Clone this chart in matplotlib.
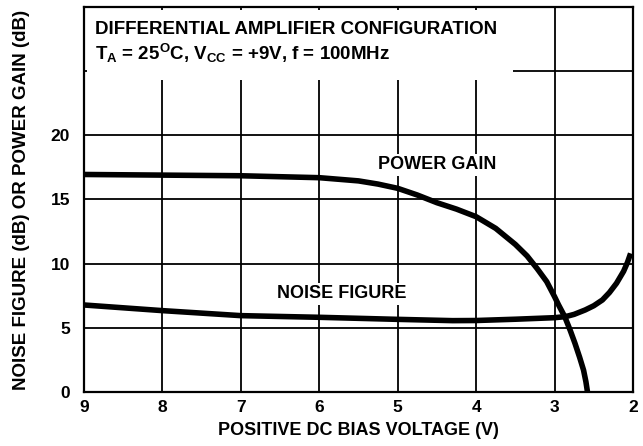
import matplotlib
matplotlib.use('Agg')
import matplotlib.pyplot as plt
from matplotlib.patches import Rectangle

plt.rcParams['font.family'] = ['Liberation Sans', 'DejaVu Sans']
plt.rcParams['font.weight'] = 'bold'
plt.rcParams['mathtext.fontset'] = 'custom'
plt.rcParams['mathtext.rm'] = 'Liberation Sans:bold'
plt.rcParams['mathtext.it'] = 'Liberation Sans:bold'
plt.rcParams['mathtext.bf'] = 'Liberation Sans:bold'

# values
gain_v = [9.0, 8.0, 7.0, 6.0, 5.5, 5.25, 5.0, 4.75, 4.5, 4.25, 4.0, 3.75, 3.5,
          3.35, 3.22, 3.1, 3.0, 2.95, 2.87, 2.8, 2.74, 2.68, 2.63, 2.6, 2.58]
gain_db = [16.95, 16.9, 16.85, 16.7, 16.45, 16.2, 15.87, 15.35, 14.75, 14.25, 13.66,
           12.75, 11.5, 10.6, 9.6, 8.6, 7.43, 6.8, 5.87, 4.8, 3.8, 2.7, 1.7, 0.8, 0.0]

noise_v = [9.0, 8.0, 7.0, 6.0, 5.0, 4.3, 4.0, 3.5, 3.0, 2.9, 2.83, 2.75, 2.61,
           2.5, 2.39, 2.3, 2.21, 2.12, 2.07, 2.03]
noise_db = [6.78, 6.34, 5.95, 5.82, 5.66, 5.56, 5.57, 5.67, 5.79, 5.85, 5.92, 6.05, 6.39,
            6.72, 7.17, 7.75, 8.47, 9.4, 10.1, 10.8]

x_ticks = [9, 8, 7, 6, 5, 4, 3, 2]
y_ticks = [0, 5, 10, 15, 20]

fig = plt.figure(figsize=(6.43, 4.46), dpi=100)
ax = fig.add_axes([0.1306, 0.1211, 0.8538, 0.8632])

ax.set_xlim(9, 2)
ax.set_ylim(0, 30)
ax.set_xticks(x_ticks)
ax.set_yticks(y_ticks)
ax.tick_params(length=0, labelsize=12.5)
ax.tick_params(axis='x', pad=6)
ax.tick_params(axis='y', pad=10)
for lbl in ax.get_xticklabels() + ax.get_yticklabels():
    lbl.set_fontweight('bold')

# grid
for x in x_ticks[1:-1]:
    ax.axvline(x, color='black', lw=1.3, zorder=1)
for y in [5, 10, 15, 20, 25]:
    ax.axhline(y, color='black', lw=1.3, zorder=1)
for s in ax.spines.values():
    s.set_linewidth(1.6)

# white box behind the conditions text
ax.add_patch(Rectangle((8.96, 24.3), 3.53 - 8.96, 29.77 - 24.3, facecolor='white',
                       edgecolor='none', zorder=2))
ax.text(8.86, 27.9, 'DIFFERENTIAL AMPLIFIER CONFIGURATION', fontsize=13.5,
        fontweight='bold', zorder=3)
ax.text(8.86, 25.88, r'T$_\mathrm{A}$ = 25$^\mathrm{O}$C, V$_\mathrm{CC}$ = +9V, f = 100MHz',
        fontsize=13.5, fontweight='bold', zorder=3)

ax.plot(gain_v, gain_db, color='black', lw=4, zorder=4, solid_capstyle='butt',
        solid_joinstyle='round')
ax.plot(noise_v, noise_db, color='black', lw=4, zorder=4, solid_capstyle='butt',
        solid_joinstyle='round')

ax.text(4.5, 17.7, 'POWER GAIN', fontsize=13, fontweight='bold', ha='center',
        va='center', zorder=3,
        bbox=dict(facecolor='white', edgecolor='none', pad=2))
ax.text(5.71, 7.64, 'NOISE FIGURE', fontsize=13, fontweight='bold', ha='center',
        va='center', zorder=3,
        bbox=dict(facecolor='white', edgecolor='none', pad=2))

ax.set_xlabel('POSITIVE DC BIAS VOLTAGE (V)', fontsize=13, fontweight='bold', labelpad=5)
ax.set_ylabel('NOISE FIGURE (dB) OR POWER GAIN (dB)', fontsize=13.5, fontweight='bold',
              labelpad=15)

fig.savefig('out.png', dpi=100)
